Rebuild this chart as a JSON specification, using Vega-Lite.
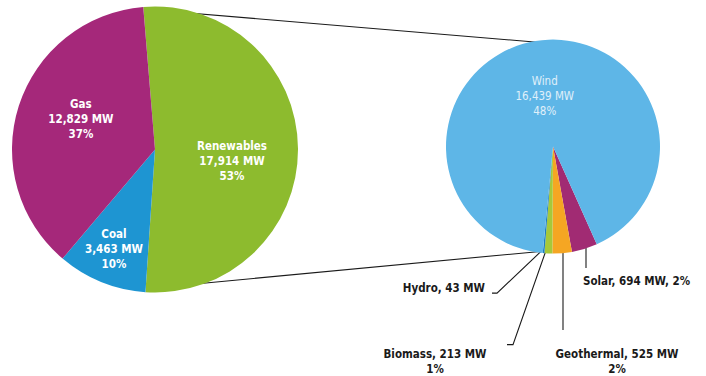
{
  "$schema": "https://vega.github.io/schema/vega-lite/v6.json",
  "width": 706,
  "height": 376,
  "autosize": {"type": "fit", "contains": "padding"},
  "padding": 0,
  "background": "white",
  "config": {"view": {"stroke": null}},
  "datasets": {
    "mix": [
      {"source": "Renewables", "mw": 17914, "ord": 1, "label": "Renewables\n17,914 MW\n53%"},
      {"source": "Coal", "mw": 3463, "ord": 2, "label": "Coal\n3,463 MW\n10%"},
      {"source": "Gas", "mw": 12829, "ord": 3, "label": "Gas\n12,829 MW\n37%"}
    ],
    "renew": [
      {"source": "Solar", "mw": 694, "ord": 1, "inner": ""},
      {"source": "Geothermal", "mw": 525, "ord": 2, "inner": ""},
      {"source": "Biomass", "mw": 213, "ord": 3, "inner": ""},
      {"source": "Hydro", "mw": 43, "ord": 4, "inner": ""},
      {"source": "Wind", "mw": 16439, "ord": 5, "inner": "Wind\n16,439 MW\n48%"}
    ],
    "guides": [
      {"g": "top", "k": 0, "px": 150, "py": 10},
      {"g": "top", "k": 1, "px": 543, "py": 44},
      {"g": "bottom", "k": 0, "px": 190, "py": 293},
      {"g": "bottom", "k": 1, "px": 540, "py": 259},
      {"g": "solar", "k": 0, "px": 586, "py": 255},
      {"g": "solar", "k": 1, "px": 586, "py": 276},
      {"g": "geo", "k": 0, "px": 563, "py": 258},
      {"g": "geo", "k": 1, "px": 563, "py": 340},
      {"g": "bio", "k": 0, "px": 546, "py": 258},
      {"g": "bio", "k": 1, "px": 513, "py": 355},
      {"g": "bio", "k": 2, "px": 507, "py": 355},
      {"g": "hydro", "k": 0, "px": 542, "py": 258},
      {"g": "hydro", "k": 1, "px": 497, "py": 302},
      {"g": "hydro", "k": 2, "px": 492, "py": 302}
    ]
  },
  "layer": [
    {
      "data": {"name": "guides"},
      "mark": {"type": "line", "color": "#1a1a1a", "strokeWidth": 1.1},
      "encoding": {
        "x": {"field": "px", "type": "quantitative", "scale": {"domain": [0, 706], "nice": false, "zero": false}, "axis": null},
        "y": {"field": "py", "type": "quantitative", "scale": {"domain": [0, 376], "nice": false, "zero": false, "reverse": true}, "axis": null},
        "detail": {"field": "g"},
        "order": {"field": "k"}
      }
    },
    {
      "data": {"name": "mix"},
      "encoding": {
        "x": {"datum": 155, "type": "quantitative"},
        "y": {"datum": 154, "type": "quantitative"},
        "theta": {"field": "mw", "type": "quantitative", "stack": true, "scale": {"range": [-0.082, 6.201]}},
        "order": {"field": "ord"}
      },
      "layer": [
        {
          "mark": {"type": "arc", "outerRadius": 143},
          "encoding": {
            "color": {"field": "source", "legend": null, "scale": {"domain": ["Renewables", "Coal", "Gas", "Solar", "Geothermal", "Biomass", "Hydro", "Wind"], "range": ["#8DBB2E", "#1E95D2", "#A5287A", "#A12B73", "#F5A623", "#A6C83A", "#1E7FC2", "#5EB6E7"]}}
          }
        },
        {
          "mark": {"type": "text", "radius": 82, "dx": 4, "dy": -19, "lineBreak": "\n", "lineHeight": 15, "color": "white", "font": "DejaVu Sans Condensed, Liberation Sans Narrow, Roboto, sans-serif", "fontSize": 11.5, "fontWeight": "bold", "align": "center", "baseline": "middle"},
          "encoding": {"text": {"condition": {"test": "datum.source === 'Gas'", "field": "label"}, "value": ""}}
        },
        {
          "mark": {"type": "text", "radius": 104, "dx": -2, "dy": -11, "lineBreak": "\n", "lineHeight": 15, "color": "white", "font": "DejaVu Sans Condensed, Liberation Sans Narrow, Roboto, sans-serif", "fontSize": 11.5, "fontWeight": "bold", "align": "center", "baseline": "middle"},
          "encoding": {"text": {"condition": {"test": "datum.source === 'Coal'", "field": "label"}, "value": ""}}
        },
        {
          "mark": {"type": "text", "radius": 77, "dx": 0, "dy": -2, "lineBreak": "\n", "lineHeight": 15, "color": "white", "font": "DejaVu Sans Condensed, Liberation Sans Narrow, Roboto, sans-serif", "fontSize": 11.5, "fontWeight": "bold", "align": "center", "baseline": "middle"},
          "encoding": {"text": {"condition": {"test": "datum.source === 'Renewables'", "field": "label"}, "value": ""}}
        }
      ]
    },
    {
      "data": {"name": "renew"},
      "encoding": {
        "x": {"datum": 553, "type": "quantitative"},
        "y": {"datum": 151, "type": "quantitative"},
        "theta": {"field": "mw", "type": "quantitative", "stack": true, "scale": {"range": [2.72, 9.003]}},
        "order": {"field": "ord"}
      },
      "layer": [
        {
          "mark": {"type": "arc", "outerRadius": 107},
          "encoding": {
            "color": {"field": "source", "legend": null}
          }
        },
        {
          "mark": {"type": "text", "radius": 57, "dx": 1, "dy": -8, "lineBreak": "\n", "lineHeight": 15, "color": "white", "opacity": 0.8, "font": "DejaVu Sans Condensed, Liberation Sans Narrow, Roboto, sans-serif", "fontSize": 11.5, "align": "center", "baseline": "middle"},
          "encoding": {"text": {"field": "inner"}}
        }
      ]
    },
    {
      "data": {"values": [{"t": "Hydro, 43 MW"}]},
      "mark": {"type": "text", "align": "right", "baseline": "middle", "color": "#1a1a1a", "font": "DejaVu Sans Condensed, Liberation Sans Narrow, Roboto, sans-serif", "fontSize": 11.5, "fontWeight": "bold"},
      "encoding": {"x": {"datum": 485, "type": "quantitative"}, "y": {"datum": 298, "type": "quantitative"}, "text": {"field": "t"}}
    },
    {
      "data": {"values": [{"t": "Solar, 694 MW, 2%"}]},
      "mark": {"type": "text", "align": "left", "baseline": "middle", "color": "#1a1a1a", "font": "DejaVu Sans Condensed, Liberation Sans Narrow, Roboto, sans-serif", "fontSize": 11.5, "fontWeight": "bold"},
      "encoding": {"x": {"datum": 583, "type": "quantitative"}, "y": {"datum": 290, "type": "quantitative"}, "text": {"field": "t"}}
    },
    {
      "data": {"values": [{"t": "Biomass, 213 MW\n1%"}]},
      "mark": {"type": "text", "align": "center", "baseline": "middle", "lineBreak": "\n", "lineHeight": 15, "color": "#1a1a1a", "font": "DejaVu Sans Condensed, Liberation Sans Narrow, Roboto, sans-serif", "fontSize": 11.5, "fontWeight": "bold"},
      "encoding": {"x": {"datum": 435, "type": "quantitative"}, "y": {"datum": 366, "type": "quantitative"}, "text": {"field": "t"}}
    },
    {
      "data": {"values": [{"t": "Geothermal, 525 MW\n2%"}]},
      "mark": {"type": "text", "align": "center", "baseline": "middle", "lineBreak": "\n", "lineHeight": 15, "color": "#1a1a1a", "font": "DejaVu Sans Condensed, Liberation Sans Narrow, Roboto, sans-serif", "fontSize": 11.5, "fontWeight": "bold"},
      "encoding": {"x": {"datum": 617, "type": "quantitative"}, "y": {"datum": 366, "type": "quantitative"}, "text": {"field": "t"}}
    }
  ],
  "resolve": {"scale": {"theta": "independent"}}
}
